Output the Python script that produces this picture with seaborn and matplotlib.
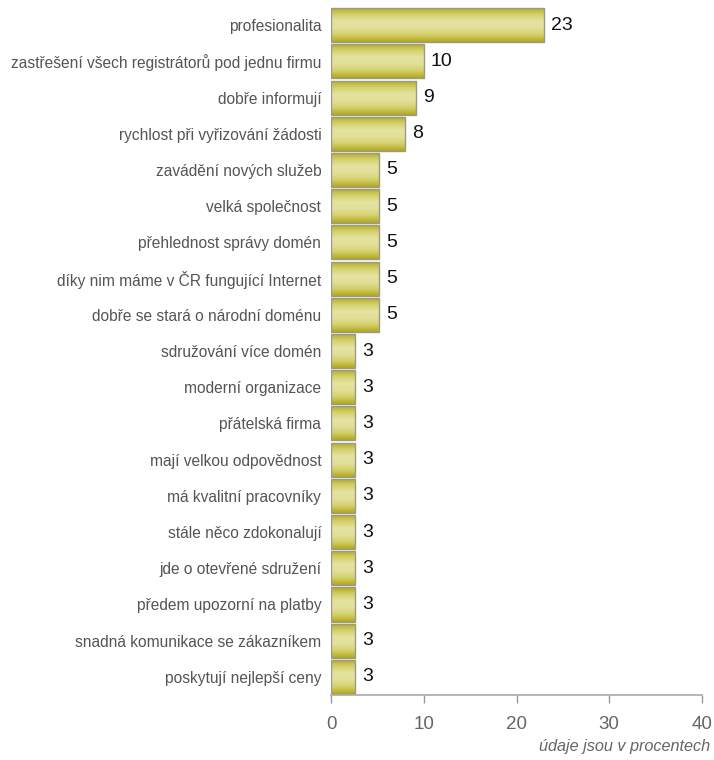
import numpy as np
import pandas as pd
import matplotlib
matplotlib.use('Agg')
import matplotlib.pyplot as plt
import seaborn as sns
from matplotlib.colors import LinearSegmentedColormap

# Data
kategorie = [
    'profesionalita',
    'zastřešení všech registrátorů pod jednu firmu',
    'dobře informují',
    'rychlost při vyřizování žádosti',
    'zavádění nových služeb',
    'velká společnost',
    'přehlednost správy domén',
    'díky nim máme v ČR fungující Internet',
    'dobře se stará o národní doménu',
    'sdružování více domén',
    'moderní organizace',
    'přátelská firma',
    'mají velkou odpovědnost',
    'má kvalitní pracovníky',
    'stále něco zdokonalují',
    'jde o otevřené sdružení',
    'předem upozorní na platby',
    'snadná komunikace se zákazníkem',
    'poskytují nejlepší ceny',
]
hodnoty = [23, 10, 9, 8, 5, 5, 5, 5, 5, 3, 3, 3, 3, 3, 3, 3, 3, 3, 3]
# bar lengths as drawn (rounded values shown as labels)
delky = [23, 10, 9.2, 8, 5.2, 5.2, 5.2, 5.2, 5.2, 2.6, 2.6, 2.6, 2.6, 2.6, 2.6, 2.6, 2.6, 2.6, 2.6]

df = pd.DataFrame({'kategorie': kategorie, 'delka': delky, 'hodnota': hodnoty})

sns.set_theme(style='white')
plt.rcParams['font.family'] = ['Liberation Sans', 'DejaVu Sans']

fig = plt.figure(figsize=(7.14, 7.60), dpi=100)
ax = fig.add_axes([0.4636, 0.0855, 0.5196, 0.9053])

sns.barplot(data=df, x='delka', y='kategorie', orient='h', ax=ax,
            color='#d4d060', edgecolor='#9a9a8a', linewidth=1.0, width=0.94)

# vertical gradient inside each bar
cmap = LinearSegmentedColormap.from_list(
    'olive', ['#b3a81c', '#d3d06a', '#e4e3a0', '#e2e09a', '#d3d06a', '#b3a81c'])
grad = np.linspace(0, 1, 64).reshape(-1, 1)
for p in ax.patches:
    x0, y0 = p.get_x(), p.get_y()
    w, h = p.get_width(), p.get_height()
    im = ax.imshow(grad, cmap=cmap, aspect='auto', extent=[x0, x0 + w, y0 + h, y0],
                   zorder=p.get_zorder() + 0.1, interpolation='bicubic')
    im.set_clip_path(p)
    p.set_facecolor('none')
    p.set_zorder(p.get_zorder() + 0.2)

for i, (d, v) in enumerate(zip(delky, hodnoty)):
    ax.text(d + 0.75, i, f'{v}', va='center', ha='left', fontsize=14, color='#111111')

ax.set_xlim(0, 40)
ax.set_ylim(18.5, -0.5)
ax.set_xticks([0, 10, 20, 30, 40])
ax.set_xlabel('')
ax.set_ylabel('')
ax.tick_params(axis='x', colors='#999999', labelcolor='#666666', labelsize=13.5,
               direction='out', length=6, width=1, pad=9, bottom=True)
ax.tick_params(axis='y', length=0, labelsize=11.2, labelcolor='#555555', pad=7)
for s in ['top', 'right', 'left']:
    ax.spines[s].set_visible(False)
ax.spines['bottom'].set_color('#aaaaaa')
ax.spines['bottom'].set_linewidth(1.2)

fig.text(0.994, 0.008, 'údaje jsou v procentech', ha='right', va='bottom',
         fontsize=11.7, style='italic', color='#666666')

fig.savefig('out.png', dpi=100)
